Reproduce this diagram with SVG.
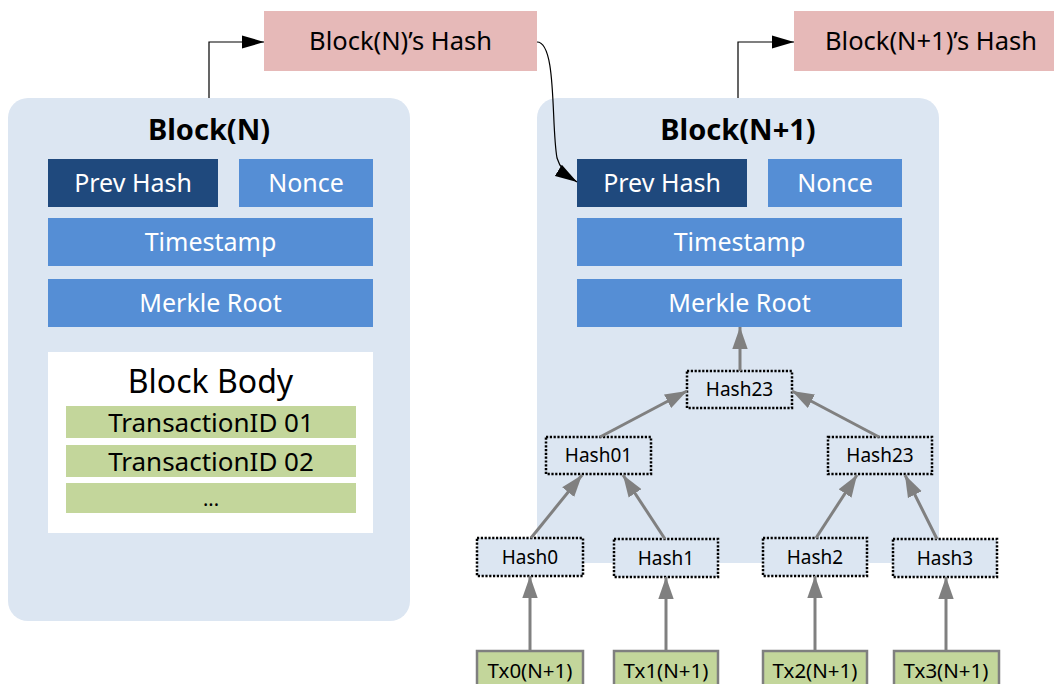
<svg xmlns="http://www.w3.org/2000/svg" width="1054" height="684" viewBox="0 0 1054 684">
<style>
text{font-family:"Noto Sans","Liberation Sans",sans-serif;text-anchor:middle;fill:#000}
.cont{fill:#dce6f2}
.pink{fill:#e6b9b8}
.dark{fill:#1f497d}
.mid{fill:#558ed5}
.wt{fill:#fff;font-size:25px}
.title{font-size:29px;font-weight:bold}
.ph{font-size:25.5px}
.green{fill:#c3d69b}
.tx{fill:#c3d69b;stroke:#7f7f7f;stroke-width:2.5}
.txl{font-size:20.5px}
.hn{fill:#dce6f2;stroke:#000;stroke-width:2.5;stroke-dasharray:2.2 1.6}
.hl{font-size:19px}
.gl{stroke:#808080;stroke-width:3;fill:none;marker-end:url(#ga)}
.bl{stroke:#000;stroke-width:1.2;fill:none;marker-end:url(#ba)}
</style>
<defs>
<marker id="ga" markerUnits="userSpaceOnUse" markerWidth="22" markerHeight="16" viewBox="0 0 20 14" refX="20" refY="7" orient="auto"><path d="M0,0 L20,7 L0,14 Z" fill="#808080"/></marker>
<marker id="ba" markerUnits="userSpaceOnUse" markerWidth="22" markerHeight="14" viewBox="0 0 20 12" refX="20" refY="6" orient="auto"><path d="M0,0 L20,6 L0,12 Z" fill="#000"/></marker>
</defs>

<g id="blockN">
<rect class="cont" x="8" y="98" width="402" height="523" rx="20"/>
<text class="title" x="209" y="140">Block(N)</text>
<rect class="dark" x="48" y="159" width="170" height="48"/>
<text class="wt" x="133" y="192">Prev Hash</text>
<rect class="mid" x="239" y="159" width="134" height="48"/>
<text class="wt" x="306" y="192">Nonce</text>
<rect class="mid" x="48" y="218" width="325" height="48"/>
<text class="wt" x="210.5" y="251">Timestamp</text>
<rect class="mid" x="48" y="279" width="325" height="48"/>
<text class="wt" x="210.5" y="312">Merkle Root</text>
<rect fill="#fff" x="48" y="352" width="325" height="181"/>
<text x="210.5" y="393" style="font-size:32px">Block Body</text>
<rect class="green" x="66" y="406" width="290" height="32"/>
<text x="211" y="432" style="font-size:26px">TransactionID 01</text>
<rect class="green" x="66" y="445" width="290" height="32"/>
<text x="211" y="471" style="font-size:26px">TransactionID 02</text>
<rect class="green" x="66" y="483" width="290" height="30"/>
<text x="211" y="506" style="font-size:20px">...</text>
</g>

<g id="blockN1">
<path class="cont" d="M537,563 V118 A20,20 0 0 1 557,98 H919 A20,20 0 0 1 939,118 V563 Z"/>
<text class="title" x="738" y="140">Block(N+1)</text>
<rect class="dark" x="577" y="159" width="170" height="48"/>
<text class="wt" x="662" y="192">Prev Hash</text>
<rect class="mid" x="768" y="159" width="134" height="48"/>
<text class="wt" x="835" y="192">Nonce</text>
<rect class="mid" x="577" y="218" width="325" height="48"/>
<text class="wt" x="739.5" y="251">Timestamp</text>
<rect class="mid" x="577" y="279" width="325" height="48"/>
<text class="wt" x="739.5" y="312">Merkle Root</text>
</g>

<g id="hashN">
<rect class="pink" x="264" y="11" width="273" height="60"/>
<text class="ph" x="400.5" y="50">Block(N)’s Hash</text>
</g>
<g id="hashN1">
<rect class="pink" x="794" y="11" width="262" height="60"/>
<text class="ph" x="931" y="50">Block(N+1)’s Hash</text>
</g>

<g id="hash23top"><rect class="hn" x="687" y="371" width="105" height="37"/><text class="hl" x="739.5" y="396">Hash23</text></g>
<g id="hash01"><rect class="hn" x="546" y="437" width="105" height="37"/><text class="hl" x="598.5" y="462">Hash01</text></g>
<g id="hash23"><rect class="hn" x="828" y="437" width="104" height="37"/><text class="hl" x="880" y="462">Hash23</text></g>
<g id="hash0"><rect class="hn" x="477" y="538" width="106" height="38"/><text class="hl" x="530" y="564">Hash0</text></g>
<g id="hash1"><rect class="hn" x="614" y="539" width="104" height="38"/><text class="hl" x="666" y="565">Hash1</text></g>
<g id="hash2"><rect class="hn" x="763" y="538" width="104" height="38"/><text class="hl" x="815" y="564">Hash2</text></g>
<g id="hash3"><rect class="hn" x="893" y="539" width="104" height="38"/><text class="hl" x="945" y="565">Hash3</text></g>

<g id="tx0"><rect class="tx" x="477" y="651" width="106" height="45"/><text class="txl" x="530" y="678">Tx0(N+1)</text></g>
<g id="tx1"><rect class="tx" x="614" y="651" width="104" height="45"/><text class="txl" x="666" y="678">Tx1(N+1)</text></g>
<g id="tx2"><rect class="tx" x="763" y="651" width="104" height="45"/><text class="txl" x="815" y="678">Tx2(N+1)</text></g>
<g id="tx3"><rect class="tx" x="894" y="651" width="105" height="45"/><text class="txl" x="946" y="678">Tx3(N+1)</text></g>

<g id="connectors">
<path class="bl" d="M209,98 V42 H264"/>
<path class="bl" d="M738,98 V42 H794"/>
<path class="bl" d="M537,42 C557,42 551,125 557,158 Q561,172 577,182"/>
<path class="gl" d="M740,371 V327"/>
<path class="gl" d="M600,437 L687,391"/>
<path class="gl" d="M879,437 L792,391"/>
<path class="gl" d="M531,538 L582,475"/>
<path class="gl" d="M665,539 L623,475"/>
<path class="gl" d="M816,538 L857,475"/>
<path class="gl" d="M937,539 L905,475"/>
<path class="gl" d="M530,651 V576"/>
<path class="gl" d="M666,651 V577"/>
<path class="gl" d="M815,651 V576"/>
<path class="gl" d="M946,651 V577"/>
</g>
</svg>
